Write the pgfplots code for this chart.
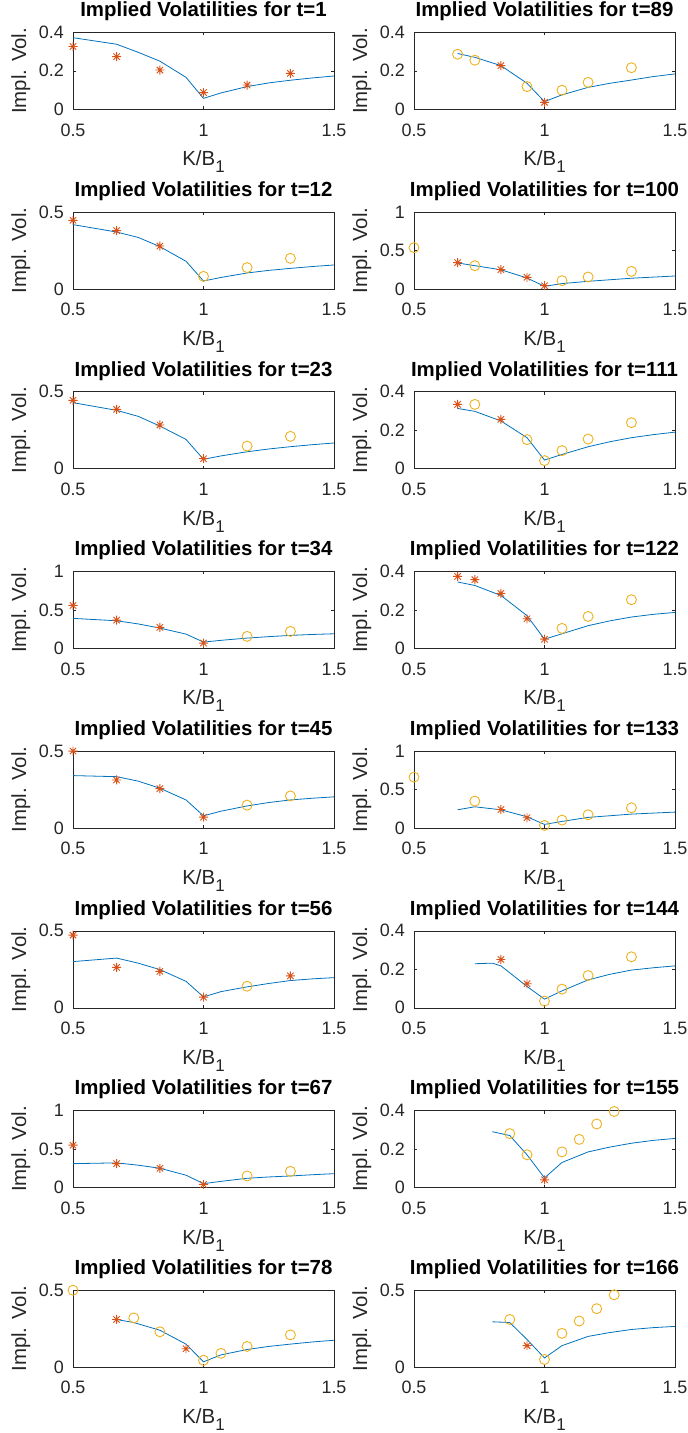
\documentclass[border=0pt]{standalone}
\usepackage{fontspec}
\setmainfont{Liberation Sans}
\usepackage{pgfplots}
\pgfplotsset{compat=1.18}
\definecolor{mblue}{rgb}{0,0.447,0.741}
\definecolor{morange}{rgb}{0.85,0.325,0.098}
\definecolor{myellow}{rgb}{0.929,0.694,0.125}
\definecolor{axgray}{rgb}{0.15,0.15,0.15}
\pgfdeclareplotmark{mstar}{%
 \pgfpathmoveto{\pgfqpoint{-\pgfplotmarksize}{0pt}}\pgfpathlineto{\pgfqpoint{\pgfplotmarksize}{0pt}}%
 \pgfpathmoveto{\pgfqpoint{0pt}{-\pgfplotmarksize}}\pgfpathlineto{\pgfqpoint{0pt}{\pgfplotmarksize}}%
 \pgfpathmoveto{\pgfqpoint{-0.707\pgfplotmarksize}{-0.707\pgfplotmarksize}}\pgfpathlineto{\pgfqpoint{0.707\pgfplotmarksize}{0.707\pgfplotmarksize}}%
 \pgfpathmoveto{\pgfqpoint{-0.707\pgfplotmarksize}{0.707\pgfplotmarksize}}\pgfpathlineto{\pgfqpoint{0.707\pgfplotmarksize}{-0.707\pgfplotmarksize}}%
 \pgfusepathqstroke}
\newcommand{\tks}{\fontsize{18}{18}\selectfont}
\newcommand{\lbs}{\fontsize{20.5}{20.5}\selectfont}
\newcommand{\tts}{\fontsize{20.5}{20.5}\selectfont\bfseries}
\pgfplotsset{
  panel/.style={scale only axis, width=261bp, height=77bp, anchor=north west,
    xmin=0.5, xmax=1.5, ymin=0, xtick={0.5,1,1.5}, xticklabels={0.5,1,1.5},
    axis line style={draw=axgray, line width=0.6bp},
    tick style={draw=axgray, line width=0.6bp}, major tick length=3bp, tick align=inside,
    xticklabel style={font=\tks, text=axgray, anchor=base, inner sep=0pt, yshift=-26.7bp},
    yticklabel style={font=\tks, text=axgray, anchor=east, inner sep=0pt, xshift=-9bp},
    title style={font=\tts, at={(axis description cs:0.5,1)}, anchor=base, inner sep=0pt, yshift=9.6bp},
    xlabel={K/B\raisebox{-7bp}{\fontsize{17}{17}\selectfont 1}},
    xlabel style={font=\lbs, text=axgray, at={(axis description cs:0.5,0)}, anchor=base, inner sep=0pt, yshift=-56.5bp},
    ylabel={Impl. Vol.},
    ylabel style={font=\lbs, text=axgray, at={(axis description cs:-0.163,0.5)}, rotate=0, anchor=south, inner sep=0pt},
  },
  y04/.style={ymax=0.4, ytick={0,0.2,0.4}, yticklabels={0,0.2,0.4}},
  y05/.style={ymax=0.5, ytick={0,0.5}, yticklabels={0,0.5}},
  y1/.style={ymax=1, ytick={0,0.5,1}, yticklabels={0,0.5,1}},
  vline/.style={draw=mblue, line width=0.8bp, no marks},
  vstar/.style={only marks, mark=mstar, mark size=4.5bp, draw=morange, mark options={line width=0.9bp}},
  vcirc/.style={only marks, mark=o, mark size=5bp, draw=myellow, mark options={line width=0.9bp}},
}
\begin{document}
\begin{tikzpicture}
% ---------------- left column ----------------
\begin{axis}[panel, y04, at={(73bp,-32.3bp)}, title={Implied Volatilities for t=1}]
\addplot[vline] coordinates {(0.5,0.372)(0.667,0.338)(0.75,0.296)(0.833,0.250)(0.933,0.166)(1,0.057)(1.067,0.085)(1.167,0.118)(1.25,0.137)(1.333,0.151)(1.417,0.163)(1.5,0.173)};
\addplot[vstar] coordinates {(0.5,0.326)(0.667,0.274)(0.833,0.204)(1,0.087)(1.167,0.126)(1.333,0.187)};
\end{axis}
\begin{axis}[panel, y05, at={(73bp,-212.0bp)}, title={Implied Volatilities for t=12}]
\addplot[vline] coordinates {(0.5,0.418)(0.667,0.370)(0.75,0.335)(0.833,0.275)(0.933,0.180)(1,0.052)(1.067,0.075)(1.167,0.104)(1.25,0.121)(1.333,0.134)(1.417,0.146)(1.5,0.156)};
\addplot[vstar] coordinates {(0.5,0.446)(0.667,0.379)(0.833,0.279)};
\addplot[vcirc] coordinates {(1,0.082)(1.167,0.139)(1.333,0.199)};
\end{axis}
\begin{axis}[panel, y05, at={(73bp,-391.7bp)}, title={Implied Volatilities for t=23}]
\addplot[vline] coordinates {(0.5,0.429)(0.667,0.379)(0.75,0.340)(0.833,0.277)(0.933,0.190)(1,0.061)(1.067,0.083)(1.167,0.110)(1.25,0.128)(1.333,0.143)(1.417,0.156)(1.5,0.167)};
\addplot[vstar] coordinates {(0.5,0.444)(0.667,0.385)(0.833,0.284)(1,0.065)};
\addplot[vcirc] coordinates {(1.167,0.147)(1.333,0.21)};
\end{axis}
\begin{axis}[panel, y1, at={(73bp,-571.4bp)}, title={Implied Volatilities for t=34}]
\addplot[vline] coordinates {(0.5,0.390)(0.667,0.359)(0.75,0.318)(0.833,0.264)(0.933,0.186)(1,0.082)(1.067,0.105)(1.167,0.134)(1.25,0.153)(1.333,0.169)(1.417,0.181)(1.5,0.19)};
\addplot[vstar] coordinates {(0.5,0.558)(0.667,0.368)(0.833,0.273)(1,0.069)};
\addplot[vcirc] coordinates {(1.167,0.156)(1.333,0.221)};
\end{axis}
\begin{axis}[panel, y05, at={(73bp,-751.1bp)}, title={Implied Volatilities for t=45}]
\addplot[vline] coordinates {(0.5,0.341)(0.667,0.334)(0.75,0.305)(0.833,0.259)(0.933,0.183)(1,0.080)(1.067,0.110)(1.167,0.144)(1.25,0.166)(1.333,0.183)(1.417,0.194)(1.5,0.203)};
\addplot[vstar] coordinates {(0.5,0.5)(0.667,0.3125)(0.833,0.256)(1,0.071)};
\addplot[vcirc] coordinates {(1.167,0.149)(1.333,0.209)};
\end{axis}
\begin{axis}[panel, y05, at={(73bp,-930.8bp)}, title={Implied Volatilities for t=56}]
\addplot[vline] coordinates {(0.5,0.30)(0.667,0.323)(0.75,0.29)(0.833,0.248)(0.933,0.172)(1,0.071)(1.067,0.105)(1.167,0.136)(1.25,0.158)(1.333,0.177)(1.417,0.188)(1.5,0.196)};
\addplot[vstar] coordinates {(0.5,0.472)(0.667,0.263)(0.833,0.237)(1,0.069)(1.333,0.207)};
\addplot[vcirc] coordinates {(1.167,0.140)};
\end{axis}
\begin{axis}[panel, y1, at={(73bp,-1110.5bp)}, title={Implied Volatilities for t=67}]
\addplot[vline] coordinates {(0.5,0.31)(0.667,0.32)(0.75,0.29)(0.833,0.25)(0.933,0.16)(1,0.05)(1.067,0.08)(1.167,0.12)(1.25,0.137)(1.333,0.15)(1.417,0.166)(1.5,0.18)};
\addplot[vstar] coordinates {(0.5,0.55)(0.667,0.31)(0.833,0.25)(1,0.04)};
\addplot[vcirc] coordinates {(1.167,0.15)(1.333,0.21)};
\end{axis}
\begin{axis}[panel, y05, at={(73bp,-1290.2bp)}, title={Implied Volatilities for t=78}]
\addplot[vline] coordinates {(0.667,0.31)(0.733,0.29)(0.833,0.24)(0.933,0.15)(1,0.035)(1.067,0.08)(1.167,0.115)(1.25,0.135)(1.333,0.15)(1.417,0.164)(1.5,0.175)};
\addplot[vstar] coordinates {(0.667,0.31)(0.933,0.12)};
\addplot[vcirc] coordinates {(0.5,0.5)(0.733,0.32)(0.833,0.23)(1,0.045)(1.067,0.09)(1.167,0.135)(1.333,0.21)};
\end{axis}
% ---------------- right column ----------------
\begin{axis}[panel, y04, at={(414bp,-32.3bp)}, title={Implied Volatilities for t=89}]
\addplot[vline] coordinates {(0.667,0.29)(0.733,0.27)(0.833,0.227)(0.933,0.135)(1,0.04)(1.067,0.075)(1.167,0.114)(1.25,0.135)(1.333,0.152)(1.417,0.17)(1.5,0.184)};
\addplot[vstar] coordinates {(0.833,0.227)(1,0.036)};
\addplot[vcirc] coordinates {(0.667,0.286)(0.733,0.255)(0.933,0.118)(1.067,0.099)(1.167,0.140)(1.333,0.216)};
\end{axis}
\begin{axis}[panel, y1, at={(414bp,-212.0bp)}, title={Implied Volatilities for t=100}]
\addplot[vline] coordinates {(0.667,0.338)(0.833,0.25)(0.933,0.143)(1,0.035)(1.067,0.07)(1.167,0.10)(1.333,0.14)(1.5,0.169)};
\addplot[vstar] coordinates {(0.667,0.342)(0.833,0.251)(0.933,0.152)(1,0.043)};
\addplot[vcirc] coordinates {(0.5,0.537)(0.733,0.303)(1.067,0.108)(1.167,0.156)(1.333,0.229)};
\end{axis}
\begin{axis}[panel, y04, at={(414bp,-391.7bp)}, title={Implied Volatilities for t=111}]
\addplot[vline] coordinates {(0.667,0.313)(0.733,0.298)(0.833,0.248)(0.933,0.161)(1,0.045)(1.067,0.074)(1.167,0.114)(1.25,0.14)(1.333,0.161)(1.417,0.177)(1.5,0.19)};
\addplot[vstar] coordinates {(0.667,0.334)(0.833,0.256)};
\addplot[vcirc] coordinates {(0.733,0.334)(0.933,0.151)(1,0.042)(1.067,0.094)(1.167,0.154)(1.333,0.239)};
\end{axis}
\begin{axis}[panel, y04, at={(414bp,-571.4bp)}, title={Implied Volatilities for t=122}]
\addplot[vline] coordinates {(0.667,0.345)(0.733,0.327)(0.833,0.275)(0.933,0.17)(1,0.048)(1.067,0.076)(1.167,0.118)(1.25,0.143)(1.333,0.163)(1.417,0.177)(1.5,0.187)};
\addplot[vstar] coordinates {(0.667,0.374)(0.733,0.357)(0.833,0.286)(0.933,0.154)(1,0.048)};
\addplot[vcirc] coordinates {(1.067,0.104)(1.167,0.166)(1.333,0.253)};
\end{axis}
\begin{axis}[panel, y1, at={(414bp,-751.1bp)}, title={Implied Volatilities for t=133}]
\addplot[vline] coordinates {(0.667,0.238)(0.733,0.277)(0.833,0.238)(0.933,0.147)(1,0.048)(1.067,0.087)(1.167,0.139)(1.333,0.182)(1.5,0.208)};
\addplot[vstar] coordinates {(0.833,0.242)(0.933,0.134)};
\addplot[vcirc] coordinates {(0.5,0.662)(0.733,0.351)(1,0.035)(1.067,0.104)(1.167,0.173)(1.333,0.264)};
\end{axis}
\begin{axis}[panel, y04, at={(414bp,-930.8bp)}, title={Implied Volatilities for t=144}]
\addplot[vline] coordinates {(0.733,0.229)(0.8,0.232)(0.833,0.218)(0.933,0.111)(1,0.045)(1.067,0.088)(1.167,0.145)(1.25,0.174)(1.333,0.196)(1.417,0.208)(1.5,0.218)};
\addplot[vstar] coordinates {(0.833,0.251)(0.933,0.125)};
\addplot[vcirc] coordinates {(1,0.035)(1.067,0.097)(1.167,0.168)(1.333,0.265)};
\end{axis}
\begin{axis}[panel, y04, at={(414bp,-1110.5bp)}, title={Implied Volatilities for t=155}]
\addplot[vline] coordinates {(0.8,0.29)(0.867,0.27)(0.933,0.17)(1,0.05)(1.067,0.13)(1.167,0.185)(1.25,0.21)(1.333,0.23)(1.417,0.245)(1.5,0.255)};
\addplot[vstar] coordinates {(1,0.04)};
\addplot[vcirc] coordinates {(0.867,0.28)(0.933,0.17)(1.067,0.185)(1.133,0.25)(1.2,0.33)(1.267,0.395)};
\end{axis}
\begin{axis}[panel, y05, at={(414bp,-1290.2bp)}, title={Implied Volatilities for t=166}]
\addplot[vline] coordinates {(0.8,0.295)(0.867,0.29)(0.933,0.18)(1,0.06)(1.067,0.14)(1.167,0.2)(1.25,0.225)(1.333,0.245)(1.417,0.257)(1.5,0.265)};
\addplot[vstar] coordinates {(0.933,0.14)};
\addplot[vcirc] coordinates {(0.867,0.31)(1,0.05)(1.067,0.22)(1.133,0.30)(1.2,0.38)(1.267,0.47)};
\end{axis}
\pgfresetboundingbox
\path (0bp,0bp) rectangle (688bp,-1433bp);
\end{tikzpicture}
\end{document}
